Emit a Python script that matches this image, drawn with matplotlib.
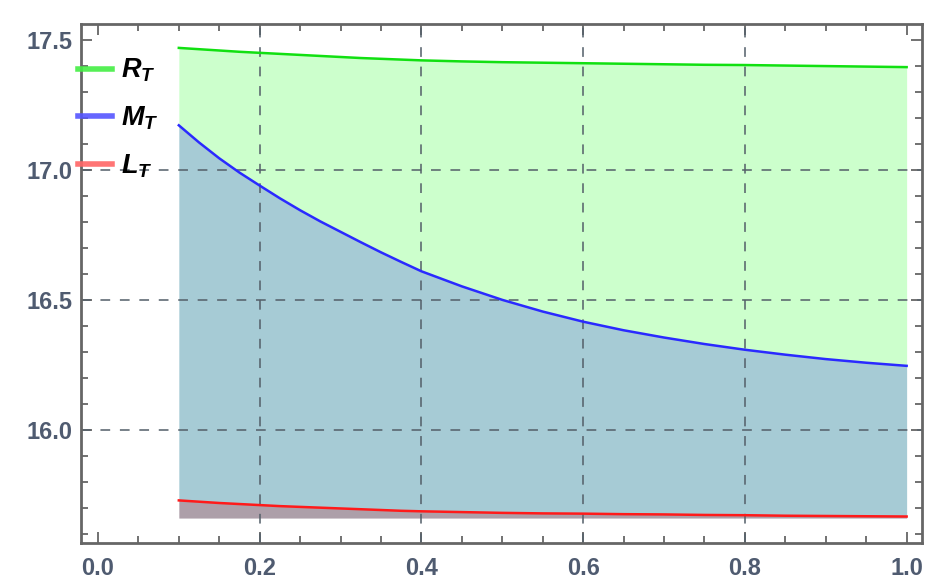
import matplotlib
matplotlib.use("Agg")
import matplotlib.pyplot as plt
from matplotlib.lines import Line2D
from matplotlib.ticker import MultipleLocator

plt.rcParams['font.family'] = ['Liberation Sans', 'DejaVu Sans']
plt.rcParams['mathtext.fontset'] = 'custom'
plt.rcParams['mathtext.it'] = 'Liberation Sans:italic:bold'
plt.rcParams['mathtext.rm'] = 'Liberation Sans:bold'

# values
x = [0.100, 0.125, 0.150, 0.175, 0.200, 0.225, 0.250, 0.275, 0.300, 0.325, 0.350, 0.375,
     0.40, 0.45, 0.50, 0.55, 0.60, 0.65, 0.70, 0.75, 0.80, 0.85, 0.90, 0.95, 1.00]
R_T = [17.470, 17.465, 17.460, 17.455, 17.451, 17.447, 17.443, 17.439, 17.435, 17.431,
       17.428, 17.425, 17.422, 17.418, 17.415, 17.413, 17.411, 17.409, 17.407, 17.405,
       17.404, 17.402, 17.400, 17.398, 17.396]
M_T = [17.172, 17.106, 17.045, 16.990, 16.940, 16.891, 16.845, 16.802, 16.762, 16.722,
       16.683, 16.646, 16.610, 16.552, 16.500, 16.455, 16.416, 16.383, 16.355, 16.330,
       16.308, 16.289, 16.272, 16.258, 16.246]
L_T = [15.728, 15.723, 15.718, 15.714, 15.710, 15.706, 15.703, 15.700, 15.697, 15.694,
       15.691, 15.688, 15.686, 15.683, 15.680, 15.678, 15.677, 15.675, 15.674, 15.672,
       15.671, 15.669, 15.668, 15.667, 15.666]
labels = [r'$R_T$', r'$M_T$', r'$L_T$']
base = min(L_T) - 0.006

fig = plt.figure(figsize=(9.47, 5.84), dpi=100)
ax = fig.add_axes([0.0855, 0.0702, 0.8881, 0.8887])

# filled areas
ax.fill_between(x, M_T, R_T, color='#ccffcc', lw=0, zorder=1)
ax.fill_between(x, L_T, M_T, color='#a6cbd5', lw=0, zorder=1)
ax.fill_between(x, base, L_T, color='#ad9fa9', lw=0, zorder=1)

# grid lines
for gx in [0.2, 0.4, 0.6, 0.8]:
    ax.axvline(gx, color='#55606a', lw=1.4, ls=(0, (5, 5)), alpha=0.8, zorder=2)
for gy in [16.0, 16.5, 17.0]:
    ax.axhline(gy, color='#55606a', lw=1.4, ls=(0, (5, 5)), alpha=0.8, zorder=2)

ax.plot(x, R_T, color='#11e011', lw=1.8, zorder=3)
ax.plot(x, M_T, color='#2a2aff', lw=1.8, zorder=3)
ax.plot(x, L_T, color='#ff1a1a', lw=1.8, zorder=3)

ax.set_xlim(-0.021, 1.019)
ax.set_ylim(15.564, 17.562)

ax.xaxis.set_major_locator(MultipleLocator(0.2))
ax.xaxis.set_minor_locator(MultipleLocator(0.05))
ax.yaxis.set_major_locator(MultipleLocator(0.5))
ax.yaxis.set_minor_locator(MultipleLocator(0.1))
ax.xaxis.set_major_formatter(lambda v, p: f'{v:.1f}')
ax.yaxis.set_major_formatter(lambda v, p: f'{v:.1f}')

ax.tick_params(which='both', direction='in', top=True, right=True,
               color='#666666', width=1.3)
ax.tick_params(which='major', length=8, labelsize=17, labelcolor='#4f5b70')
ax.tick_params(axis='x', which='major', pad=10)
ax.tick_params(axis='y', which='major', pad=6)
ax.tick_params(which='minor', length=5)
for lab in ax.get_xticklabels() + ax.get_yticklabels():
    lab.set_fontweight('bold')
for s in ax.spines.values():
    s.set_color('#666666')
    s.set_linewidth(2)

handles = [Line2D([], [], color='#44ee44', lw=4, alpha=0.9),
           Line2D([], [], color='#5555ff', lw=4, alpha=0.9),
           Line2D([], [], color='#ff6666', lw=4, alpha=0.9)]
leg = ax.legend(handles, labels, loc='upper left', bbox_to_anchor=(78 / 947, 1 - 57 / 584),
                bbox_transform=fig.transFigure, frameon=False, fontsize=19.5,
                handlelength=1.25, handletextpad=0.35, labelspacing=0.74,
                borderpad=0, borderaxespad=0)
leg.set_zorder(5)

fig.savefig('out.png', dpi=100)
